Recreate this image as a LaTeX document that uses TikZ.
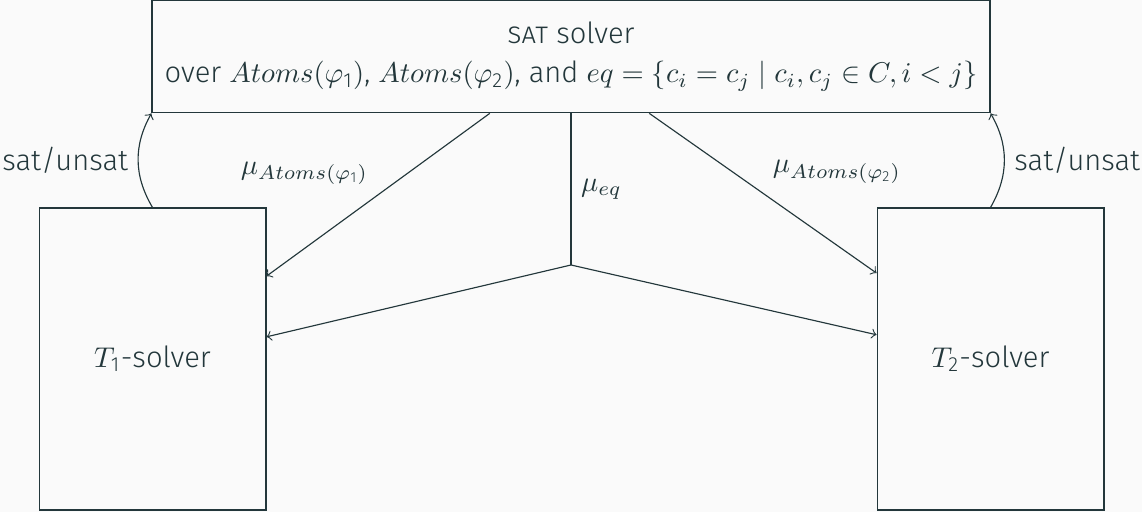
\documentclass[tikz,border=0pt]{standalone}
\usepackage{fontspec}
\setmainfont{Fira Sans Light}
\AtBeginDocument{%
  \DeclareSymbolFont{sansdigits}{TU}{\rmdefault}{m}{n}%
  \DeclareMathSymbol{1}{\mathalpha}{sansdigits}{"31}%
  \DeclareMathSymbol{2}{\mathalpha}{sansdigits}{"32}}
\definecolor{slidebg}{HTML}{FAFAFA}
\definecolor{darkteal}{HTML}{23373B}

\begin{document}
\begin{tikzpicture}[x=0.35pt, y=0.35pt, darkteal, font=\fontsize{10.2}{13.8}\selectfont,
  solverbox/.style={draw, rectangle, align=center, inner sep=0pt}]
\fill[slidebg] (0,0) rectangle (1142,512);
\useasboundingbox (0,0) rectangle (1142,512);
\node[solverbox, minimum width=293.3pt, minimum height=39.4pt] (sat) at (571,455.5)
  {\textsc{sat} solver\\over $Atoms(\varphi_1)$, $Atoms(\varphi_2)$, and $eq = \{c_i = c_j \mid c_i, c_j \in C, i < j\}$};
\node[solverbox, minimum width=79.4pt, minimum height=105.7pt] (tone) at (152.5,153) {$T_1$-solver};
\node[solverbox, minimum width=79.4pt, minimum height=105.7pt] (ttwo) at (990.5,153) {$T_2$-solver};
\coordinate (split) at (571,247);
\draw[->] (tone.north) to[bend left=30] node[left] {sat/unsat} (sat.south west);
\draw[->] (ttwo.north) to[bend right=30] node[right] {sat/unsat} (sat.south east);
\draw[->] (sat.215.3) -- node[above left] {$\mu_{Atoms(\varphi_1)}$} (tone.36.5);
\draw[->] (sat.324.7) -- node[above right] {$\mu_{Atoms(\varphi_2)}$} (ttwo.143.5);
\draw (sat.south -| split) -- node[right] {$\mu_{eq}$} (split);
\draw[->] (split) -- (tone.11.5);
\draw[->] (split) -- (ttwo.168.5);
\end{tikzpicture}
\end{document}
